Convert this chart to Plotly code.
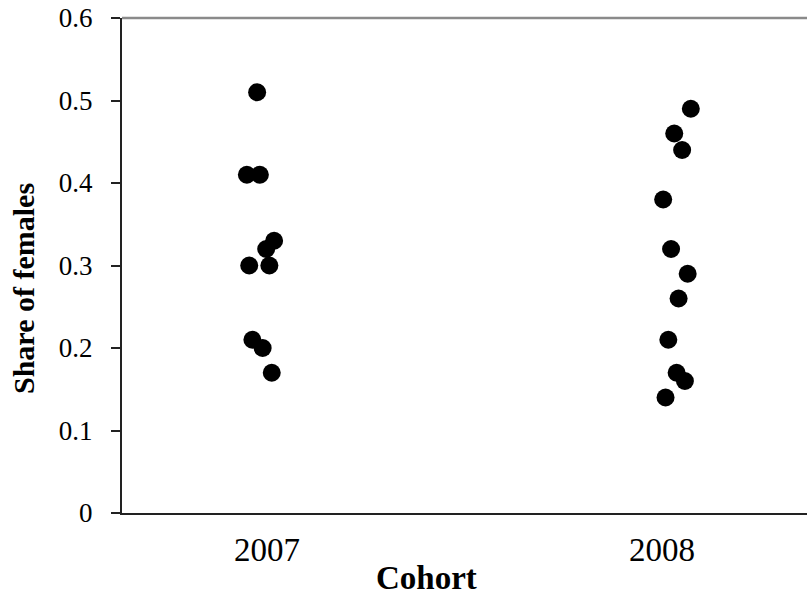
import plotly.graph_objects as go

# Data (cohort position with jitter, share of females)
x_2007 = [2006.975, 2006.949, 2006.982, 2007.018, 2006.998, 2006.955, 2007.006, 2006.963, 2006.989, 2007.012]
y_2007 = [0.51, 0.41, 0.41, 0.33, 0.32, 0.30, 0.30, 0.21, 0.20, 0.17]
x_2008 = [2008.073, 2008.031, 2008.051, 2008.003, 2008.023, 2008.065, 2008.042, 2008.016, 2008.037, 2008.058, 2008.009]
y_2008 = [0.49, 0.46, 0.44, 0.38, 0.32, 0.29, 0.26, 0.21, 0.17, 0.16, 0.14]
tick_years = [2007, 2008]
tick_labels = ["2007", "2008"]
y_ticks = [0, 0.1, 0.2, 0.3, 0.4, 0.5, 0.6]
y_tick_labels = ["0", "0.1", "0.2", "0.3", "0.4", "0.5", "0.6"]

W, H = 807, 595
L, R, T, B = 122, 0, 18, 82

fig = go.Figure()
fig.add_trace(go.Scatter(x=x_2007 + x_2008, y=y_2007 + y_2008, mode="markers",
                         marker=dict(color="black", size=18), showlegend=False))

font_family = "Liberation Serif, Times New Roman, serif"
fig.update_layout(
    width=W, height=H,
    margin=dict(l=L, r=R, t=T, b=B),
    paper_bgcolor="white", plot_bgcolor="white",
    font=dict(family=font_family, color="black"),
    xaxis=dict(range=[2006.6329, 2008.3671], tickvals=tick_years, ticktext=tick_labels,
               showgrid=False, zeroline=False, showline=True, linecolor="#222", linewidth=2,
               ticks="", tickfont=dict(size=33, family=font_family), ticklabelstandoff=6),
    yaxis=dict(range=[0, 0.6], tickvals=y_ticks, ticktext=y_tick_labels,
               showgrid=False, zeroline=False, showline=True, linecolor="#222", linewidth=2,
               ticks="outside", ticklen=9, tickwidth=1.5, tickcolor="#222",
               tickfont=dict(size=27, family=font_family), ticklabelstandoff=13),
    shapes=[dict(type="line", xref="paper", yref="paper", x0=0, x1=1, y0=1, y1=1,
                 line=dict(color="#8a8a8a", width=2.5))],
    annotations=[
        dict(text="<b>Cohort</b>", xref="paper", yref="paper",
             x=(426 - L) / (W - L - R), y=-(578 - (H - B)) / (H - T - B),
             showarrow=False, xanchor="center", yanchor="middle",
             font=dict(size=33, family=font_family)),
        dict(text="<b>Share of females</b>", xref="paper", yref="paper",
             x=-(L - 23) / (W - L - R), y=((H - B) - 289) / (H - T - B),
             showarrow=False, xanchor="center", yanchor="middle", textangle=-90,
             font=dict(size=30, family=font_family)),
    ],
)

fig.write_html("out.html", config={"displayModeBar": False},
               post_script="document.body.style.margin='0';document.body.style.overflow='hidden';")
